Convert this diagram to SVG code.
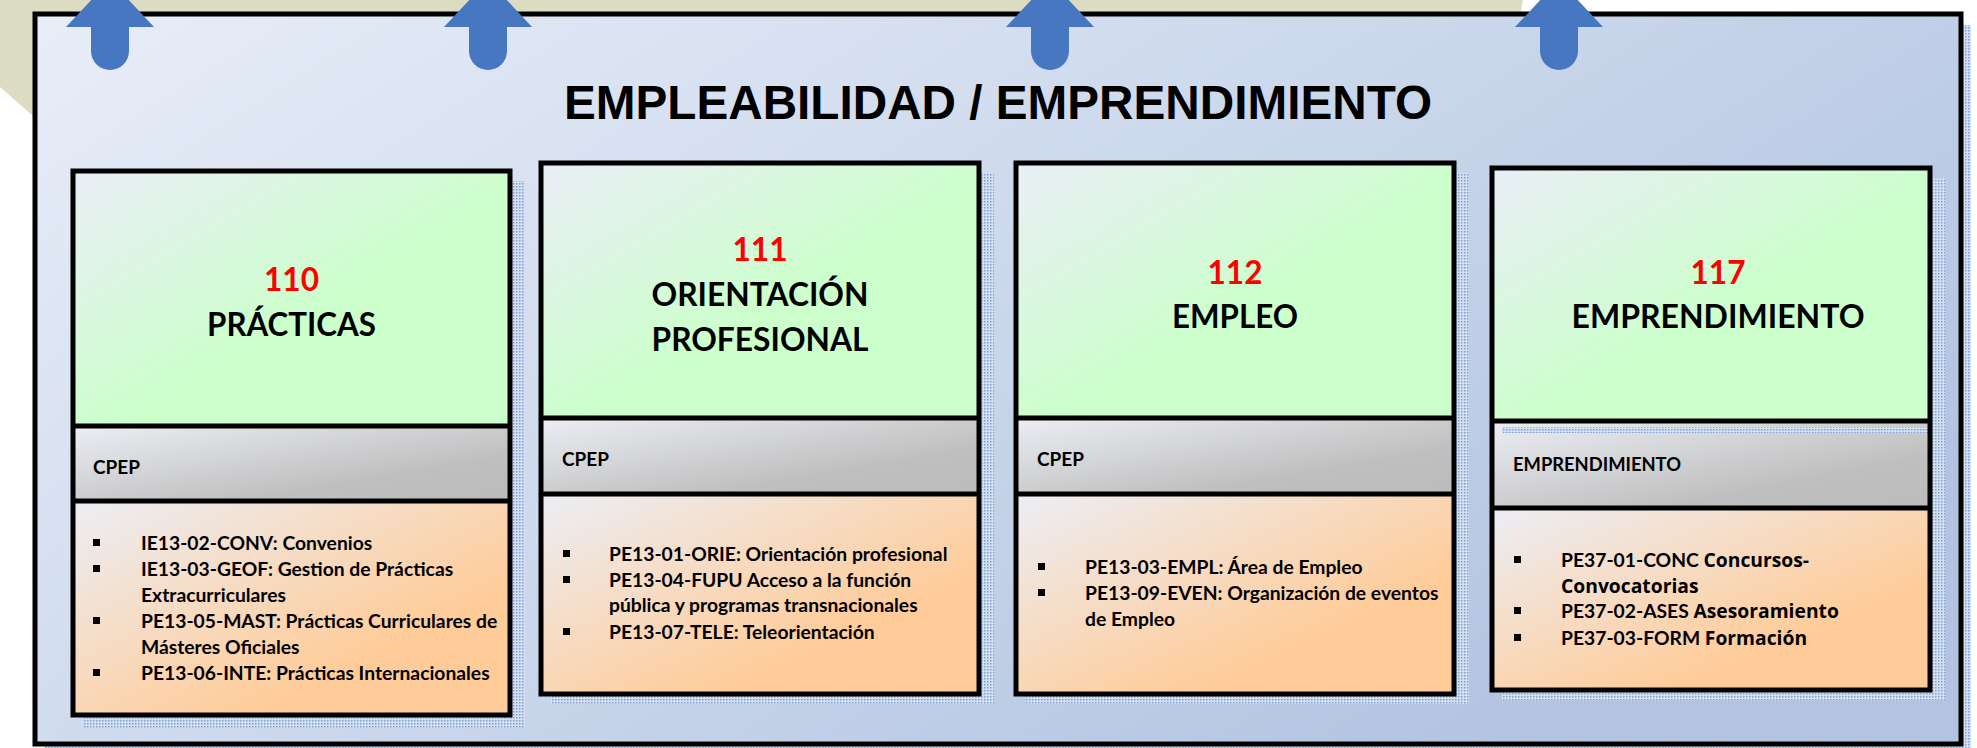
<svg xmlns="http://www.w3.org/2000/svg" width="1977" height="748" viewBox="0 0 1977 748">
<defs>
<style>
.frame{fill:none;stroke:#000;stroke-width:5;stroke-linejoin:miter}
.div{stroke:#000;stroke-width:5}
.num{font-family:Lato,"Liberation Sans",sans-serif;font-weight:bold;font-size:32px;fill:#ff0000;text-anchor:middle}
.ttl{font-family:Lato,"Liberation Sans",sans-serif;font-weight:bold;font-size:32px;fill:#000;text-anchor:middle}
.lbl{font-family:Lato,"Liberation Sans",sans-serif;font-weight:bold;font-size:19px;fill:#000}
.body{font-family:Lato,"Liberation Sans",sans-serif;font-weight:bold;font-size:19.3px;fill:#000}
.gill{font-family:"Open Sans","Liberation Sans",sans-serif;font-weight:bold}
.bul{fill:#000}
.arrow{fill:#4777c0}
.shadow{fill:url(#dots)}
</style>
<pattern id="dots" width="3" height="3" patternUnits="userSpaceOnUse">
<rect width="3" height="3" fill="#d4dff0"/>
<rect width="1.5" height="1.5" fill="#7f9fd3"/>
</pattern>
<linearGradient id="gOuter" x1="0" y1="0" x2="1" y2="0.6">
<stop offset="0" stop-color="#e8eef8"/>
<stop offset="1" stop-color="#b2c4e1"/>
</linearGradient>
<linearGradient id="gGreen" x1="0" y1="0" x2="1" y2="1">
<stop offset="0" stop-color="#eaeef6"/>
<stop offset="0.55" stop-color="#ccffcc"/>
<stop offset="1" stop-color="#ccffcc"/>
</linearGradient>
<linearGradient id="gGray" x1="0" y1="0" x2="1" y2="1">
<stop offset="0" stop-color="#eceef4"/>
<stop offset="0.7" stop-color="#bfbfbf"/>
<stop offset="1" stop-color="#bcbcbc"/>
</linearGradient>
<linearGradient id="gOrange" x1="0" y1="0" x2="1" y2="1">
<stop offset="0" stop-color="#eceef5"/>
<stop offset="0.7" stop-color="#ffcc99"/>
<stop offset="1" stop-color="#ffcc99"/>
</linearGradient>
</defs>

<rect width="1977" height="748" fill="#ffffff"/>
<g id="background">
<polygon points="0,0 1523,0 1512,60 33,116 0,87" fill="#dcdcc2"/>
<rect class="shadow" x="45" y="25" width="1926" height="731"/>
<rect x="35" y="14" width="1926" height="730" fill="url(#gOuter)" stroke="#000" stroke-width="5"/>
<text x="998" y="119" font-family="'Liberation Sans',Arial,sans-serif" font-weight="bold" font-size="48" text-anchor="middle" textLength="868" lengthAdjust="spacingAndGlyphs">EMPLEABILIDAD / EMPRENDIMIENTO</text>
</g>

<g id="connectors">
<path class="arrow" d="M66,27 L110,-20 L154,27 L129,27 L129,51 A19,19 0 0 1 91,51 L91,27 Z"/>
<path class="arrow" d="M444,27 L488,-20 L532,27 L507,27 L507,51 A19,19 0 0 1 469,51 L469,27 Z"/>
<path class="arrow" d="M1006,27 L1050,-20 L1094,27 L1069,27 L1069,51 A19,19 0 0 1 1031,51 L1031,27 Z"/>
<path class="arrow" d="M1515,27 L1559,-20 L1603,27 L1578,27 L1578,51 A19,19 0 0 1 1540,51 L1540,27 Z"/>
</g>

<g id="node-110">
<rect class="shadow" x="83" y="181" width="442" height="547"/>
<rect x="73" y="171" width="437" height="255" fill="url(#gGreen)"/>
<rect x="73" y="426" width="437" height="75" fill="url(#gGray)"/>
<rect x="73" y="501" width="437" height="214" fill="url(#gOrange)"/>
<line class="div" x1="73" y1="426" x2="510" y2="426"/>
<line class="div" x1="73" y1="501" x2="510" y2="501"/>
<rect class="frame" x="73" y="171" width="437" height="544"/>
<text class="num" x="291.5" y="290.5" textLength="55" lengthAdjust="spacingAndGlyphs">110</text>
<text class="ttl" x="291.5" y="335.5" textLength="169" lengthAdjust="spacingAndGlyphs">PRÁCTICAS</text>
<text class="lbl" x="93" y="474">CPEP</text>
<rect class="bul" x="93" y="539" width="7" height="7"/>
<rect class="bul" x="93" y="565" width="7" height="7"/>
<rect class="bul" x="93" y="617" width="7" height="7"/>
<rect class="bul" x="93" y="669" width="7" height="7"/>
<text class="body" x="141" y="550">IE13-02-CONV: Convenios</text>
<text class="body" x="141" y="576">IE13-03-GEOF: Gestion de Prácticas</text>
<text class="body" x="141" y="602">Extracurriculares</text>
<text class="body" x="141" y="628">PE13-05-MAST: Prácticas Curriculares de</text>
<text class="body" x="141" y="654">Másteres Oficiales</text>
<text class="body" x="141" y="680">PE13-06-INTE: Prácticas Internacionales</text>
</g>

<g id="node-111">
<rect class="shadow" x="551" y="173" width="443" height="531"/>
<rect x="541" y="163" width="438" height="255" fill="url(#gGreen)"/>
<rect x="541" y="418" width="438" height="76" fill="url(#gGray)"/>
<rect x="541" y="494" width="438" height="200" fill="url(#gOrange)"/>
<line class="div" x1="541" y1="418" x2="979" y2="418"/>
<line class="div" x1="541" y1="494" x2="979" y2="494"/>
<rect class="frame" x="541" y="163" width="438" height="531"/>
<text class="num" x="760" y="261" textLength="55" lengthAdjust="spacingAndGlyphs">111</text>
<text class="ttl" x="760" y="306" textLength="217" lengthAdjust="spacingAndGlyphs">ORIENTACIÓN</text>
<text class="ttl" x="760" y="351" textLength="217" lengthAdjust="spacingAndGlyphs">PROFESIONAL</text>
<text class="lbl" x="562" y="466">CPEP</text>
<rect class="bul" x="563" y="550" width="7" height="7"/>
<rect class="bul" x="563" y="576" width="7" height="7"/>
<rect class="bul" x="563" y="628" width="7" height="7"/>
<text class="body" x="609" y="561">PE13-01-ORIE: Orientación profesional</text>
<text class="body" x="609" y="587">PE13-04-FUPU Acceso a la función</text>
<text class="body" x="609" y="612">pública y programas transnacionales</text>
<text class="body" x="609" y="639">PE13-07-TELE: Teleorientación</text>
</g>

<g id="node-112">
<rect class="shadow" x="1026" y="173" width="443" height="531"/>
<rect x="1016" y="163" width="438" height="255" fill="url(#gGreen)"/>
<rect x="1016" y="418" width="438" height="76" fill="url(#gGray)"/>
<rect x="1016" y="494" width="438" height="200" fill="url(#gOrange)"/>
<line class="div" x1="1016" y1="418" x2="1454" y2="418"/>
<line class="div" x1="1016" y1="494" x2="1454" y2="494"/>
<rect class="frame" x="1016" y="163" width="438" height="531"/>
<text class="num" x="1235" y="284" textLength="55" lengthAdjust="spacingAndGlyphs">112</text>
<text class="ttl" x="1235" y="327.5" textLength="126" lengthAdjust="spacingAndGlyphs">EMPLEO</text>
<text class="lbl" x="1037" y="466">CPEP</text>
<rect class="bul" x="1038" y="563" width="7" height="7"/>
<rect class="bul" x="1038" y="589" width="7" height="7"/>
<text class="body" x="1085" y="574">PE13-03-EMPL: Área de Empleo</text>
<text class="body" x="1085" y="600">PE13-09-EVEN: Organización de eventos</text>
<text class="body" x="1085" y="626">de Empleo</text>
</g>

<g id="node-117">
<rect class="shadow" x="1502" y="178" width="443" height="522"/>
<rect x="1492" y="168" width="438" height="253" fill="url(#gGreen)"/>
<rect x="1492" y="421" width="438" height="87" fill="url(#gGray)"/>
<rect x="1492" y="508" width="438" height="182" fill="url(#gOrange)"/>
<rect class="shadow" x="1502" y="427" width="433" height="6"/>
<line class="div" x1="1492" y1="421" x2="1930" y2="421"/>
<line class="div" x1="1492" y1="508" x2="1930" y2="508"/>
<rect class="frame" x="1492" y="168" width="438" height="522"/>
<text class="num" x="1718" y="284" textLength="55" lengthAdjust="spacingAndGlyphs">117</text>
<text class="ttl" x="1718" y="327.5" textLength="293" lengthAdjust="spacingAndGlyphs">EMPRENDIMIENTO</text>
<text class="lbl" x="1513" y="471" textLength="168" lengthAdjust="spacingAndGlyphs">EMPRENDIMIENTO</text>
<rect class="bul" x="1514" y="556" width="7" height="7"/>
<rect class="bul" x="1514" y="607" width="7" height="7"/>
<rect class="bul" x="1514" y="634" width="7" height="7"/>
<text class="body" x="1561" y="567">PE37-01-CONC <tspan class="gill">Concursos-</tspan></text>
<text class="body gill" x="1561" y="593">Convocatorias</text>
<text class="body" x="1561" y="618">PE37-02-ASES <tspan class="gill">Asesoramiento</tspan></text>
<text class="body" x="1561" y="645">PE37-03-FORM <tspan class="gill">Formación</tspan></text>
</g>
</svg>
